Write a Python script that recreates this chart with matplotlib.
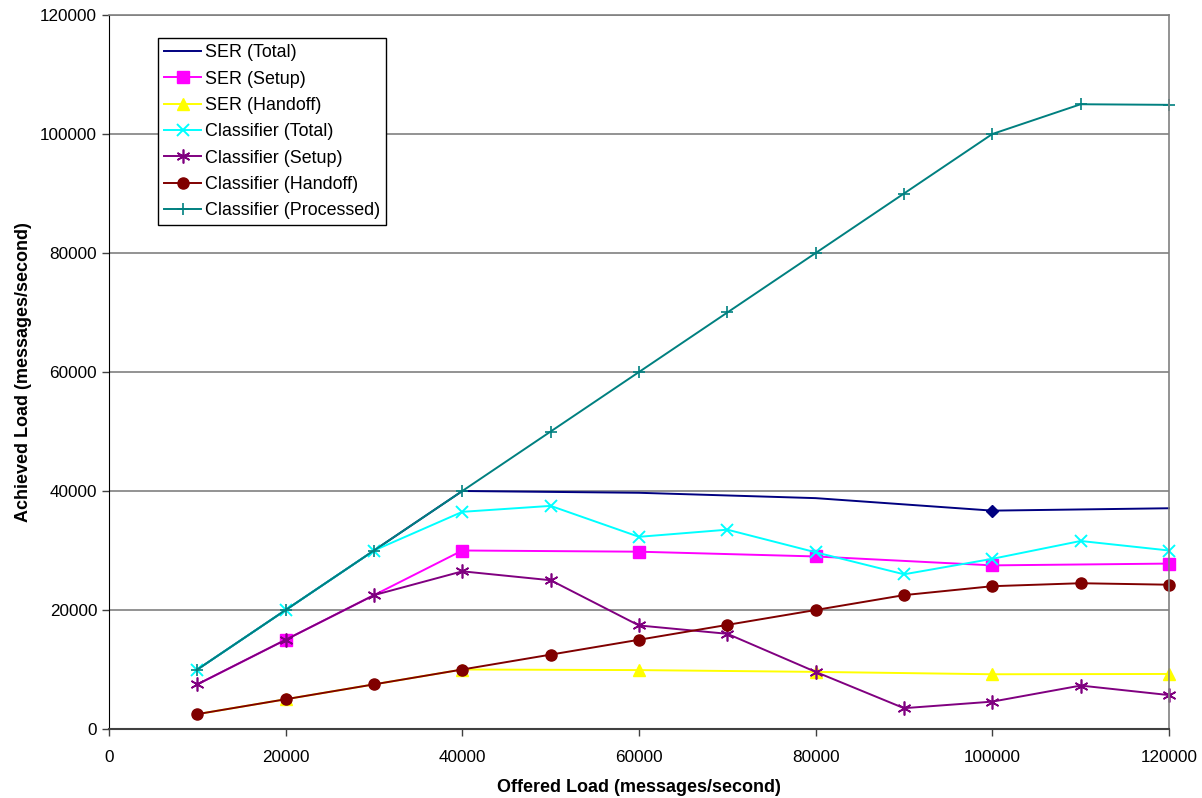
import matplotlib
matplotlib.use("Agg")
import matplotlib.pyplot as plt

plt.rcParams['font.family'] = ['Liberation Sans', 'DejaVu Sans']

x_ser = [10000, 20000, 30000, 40000, 60000, 80000, 100000, 120000]
ser_total = [10000, 20000, 30000, 40000, 39700, 38800, 36700, 37100]
ser_setup = [7500, 15000, 22500, 30000, 29800, 29000, 27500, 27800]
ser_handoff = [2500, 5000, 7500, 10000, 9900, 9600, 9200, 9250]

x_cls = [10000, 20000, 30000, 40000, 50000, 60000, 70000, 80000, 90000, 100000, 110000, 120000]
cls_total = [10000, 20000, 30000, 36500, 37500, 32300, 33500, 29700, 26000, 28600, 31600, 30000]
cls_setup = [7500, 15000, 22500, 26500, 25000, 17400, 16000, 9600, 3500, 4600, 7300, 5700]
cls_handoff = [2500, 5000, 7500, 10000, 12500, 15000, 17500, 20000, 22500, 24000, 24500, 24250]
cls_processed = [10000, 20000, 30000, 40000, 50000, 60000, 70000, 80000, 90000, 100000, 105000, 104900]

fig = plt.figure(figsize=(12.02, 7.98), dpi=100)
ax = fig.add_axes([109/1202, 1-729/798, (1169-109)/1202, (729-15)/798])

lw = 1.4
ax.plot(x_ser, ser_total, color='#000080', lw=lw, label='SER (Total)', clip_on=False)
ax.plot([x_ser[6]], [ser_total[6]], color='#000080', ls='none', marker='D', ms=6, clip_on=False)
ax.plot(x_ser, ser_setup, color='#FF00FF', lw=lw, marker='s', ms=8, markevery=[1, 3, 4, 5, 6, 7],
        label='SER (Setup)', clip_on=False)
ax.plot(x_ser, ser_handoff, color='#FFFF00', lw=lw, marker='^', ms=8, markevery=[1, 3, 4, 5, 6, 7],
        label='SER (Handoff)', clip_on=False)
ax.plot(x_cls, cls_total, color='#00FFFF', lw=lw, marker='x', ms=9, mew=1.4,
        label='Classifier (Total)', clip_on=False)
ax.plot(x_cls, cls_setup, color='#800080', lw=lw, marker=(6, 2, 0), ms=10, mew=1.2,
        label='Classifier (Setup)', clip_on=False)
ax.plot(x_cls, cls_handoff, color='#800000', lw=lw, marker='o', ms=8,
        label='Classifier (Handoff)', clip_on=False)
ax.plot(x_cls, cls_processed, color='#008080', lw=lw, marker='+', ms=9, mew=1.2,
        label='Classifier (Processed)', clip_on=False)

ax.set_xlim(0, 120000)
ax.set_ylim(0, 120000)
ax.set_xticks(range(0, 120001, 20000))
ax.set_yticks(range(0, 120001, 20000))
ax.yaxis.grid(True, color='#808080', lw=1.2)
ax.set_axisbelow(True)
for s in ['top', 'right']:
    ax.spines[s].set_color('#808080')
    ax.spines[s].set_linewidth(1.2)
ax.spines['left'].set_color('black')
ax.spines['bottom'].set_color('#404040')
ax.spines['bottom'].set_linewidth(1.5)
ax.tick_params(direction='out', length=5, width=1, colors='#404040', labelcolor='black', labelsize=12.3)
ax.tick_params(axis='x', pad=10)
ax.set_xlabel('Offered Load (messages/second)', fontsize=13, fontweight='bold', labelpad=10)
ax.set_ylabel('Achieved Load (messages/second)', fontsize=13, fontweight='bold', labelpad=6)

leg = ax.legend(loc='upper left', bbox_to_anchor=((158-109)/1060, 1-(38-15)/714), borderaxespad=0,
                fontsize=12.9, frameon=True, fancybox=False, edgecolor='black', framealpha=1,
                borderpad=0.35, labelspacing=0.52, handlelength=2.05, handletextpad=0.22)
leg.get_frame().set_linewidth(1.0)

fig.savefig('out.png', dpi=100)
